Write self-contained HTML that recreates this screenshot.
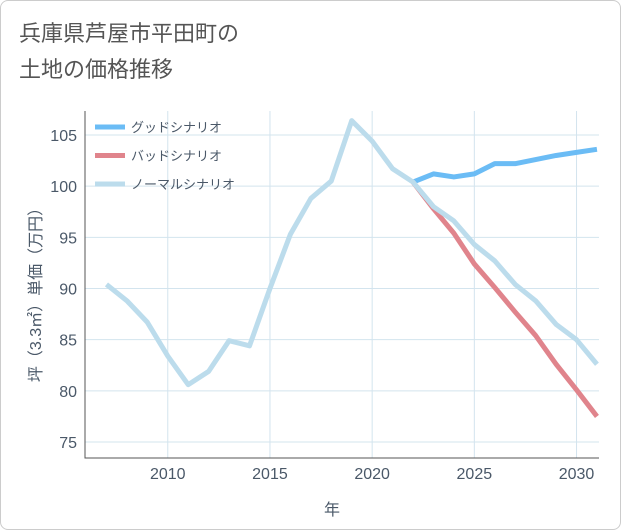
<!DOCTYPE html>
<html><head><meta charset="utf-8"><style>
body{margin:0;background:#fff;font-family:"Liberation Sans","Noto Sans CJK JP",sans-serif;}
#wrap{position:relative;width:619px;height:528px;border:1px solid #ccc;border-radius:8px;overflow:hidden;background:#fff}
</style></head><body>
<div id="wrap">
<svg id="chart" width="621" height="530"></svg>
</div>
<script>
const years=[2007,2008,2009,2010,2011,2012,2013,2014,2015,2016,2017,2018,2019,2020,2021,2022,2023,2024,2025,2026,2027,2028,2029,2030,2031];
const normalVals=[90.4,88.8,86.7,83.4,80.6,81.9,84.9,84.4,90.0,95.3,98.8,100.5,106.4,104.4,101.7,100.4,98.0,96.6,94.3,92.7,90.4,88.8,86.5,85.0,82.6];
const goodYears=[2022,2023,2024,2025,2026,2027,2028,2029,2030,2031];
const goodVals=[100.4,101.2,100.9,101.2,102.2,102.2,102.6,103.0,103.3,103.6];
const badVals=[100.4,97.8,95.4,92.4,90.1,87.7,85.4,82.6,80.1,77.5];
const xTicks=[2010,2015,2020,2025,2030];
const yTicks=[75,80,85,90,95,100,105];
const legendLabels=["グッドシナリオ","バッドシナリオ","ノーマルシナリオ"];
const colors=["#6bbcf5","#e0848c","#bcdcec"];

const NS="http://www.w3.org/2000/svg";
const svg=document.getElementById('chart');
const L=84,R=598,T=110,B=457;
const x=v=>L+(v-2005.95)/(2031.1-2005.95)*(R-L);
const y=v=>134+(105-v)*(441-134)/30;
function mk(tag,attrs,parent){const e=document.createElementNS(NS,tag);for(const k in attrs)e.setAttribute(k,attrs[k]);(parent||svg).appendChild(e);return e;}
function txt(s,attrs){const e=mk('text',attrs);e.textContent=s;return e;}

const t1=txt("兵庫県芦屋市平田町の",{x:18,y:40,'font-size':22,fill:'#555'});

const t2=txt("土地の価格推移",{x:18,y:76,'font-size':22,fill:'#555'});


xTicks.forEach(v=>{
 const g=mk('line',{x1:x(v),x2:x(v),y1:T,y2:B,stroke:'#d3e4ee','stroke-width':1});
 
 const l=txt(v,{x:x(v),y:478,'font-size':16,fill:'#4a5868','text-anchor':'middle'});
 
});
yTicks.forEach(v=>{
 const g=mk('line',{x1:L,x2:R,y1:y(v),y2:y(v),stroke:'#d3e4ee','stroke-width':1});
 
 const l=txt(v,{x:76,y:y(v)+6,'font-size':16,fill:'#4a5868','text-anchor':'end'});
 
});
const ax=mk('path',{d:`M${L},${T}V${B}H${R}`,stroke:'#555',fill:'none','stroke-width':1});


const xt=txt("年",{x:331,y:514,'font-size':16,fill:'#4a5868','text-anchor':'middle'});

const yt=txt("坪（3.3㎡）単価（万円）",{x:0,y:0,'font-size':16,fill:'#4a5868','text-anchor':'middle',transform:'translate(40,290) rotate(-90)'});


const clip=mk('clipPath',{id:'pc'});mk('rect',{x:L,y:T-5,width:R-L,height:B-T+5},clip);
function line(xs,vs,c,name){
 const d=xs.map((v,i)=>(i?'L':'M')+x(v)+','+y(vs[i])).join('');
 const p=mk('path',{d,stroke:c,'stroke-width':5,fill:'none','stroke-linejoin':'round','clip-path':'url(#pc)'});
 
}
line(goodYears,badVals,colors[1],'bad-scenario-line');
line(goodYears,goodVals,colors[0],'good-scenario-line');
line(years,normalVals,colors[2],'normal-scenario-line');

legendLabels.forEach((s,i)=>{
 const yy=126+i*28.5;
 const g=mk('g',{});
 
 mk('line',{x1:94,x2:124,y1:yy,y2:yy,stroke:colors[i],'stroke-width':5},g);
 const t=mk('text',{x:130,y:yy+5,'font-size':13,fill:'#4a5868'},g);t.textContent=s;
});
</script>
</body></html>
